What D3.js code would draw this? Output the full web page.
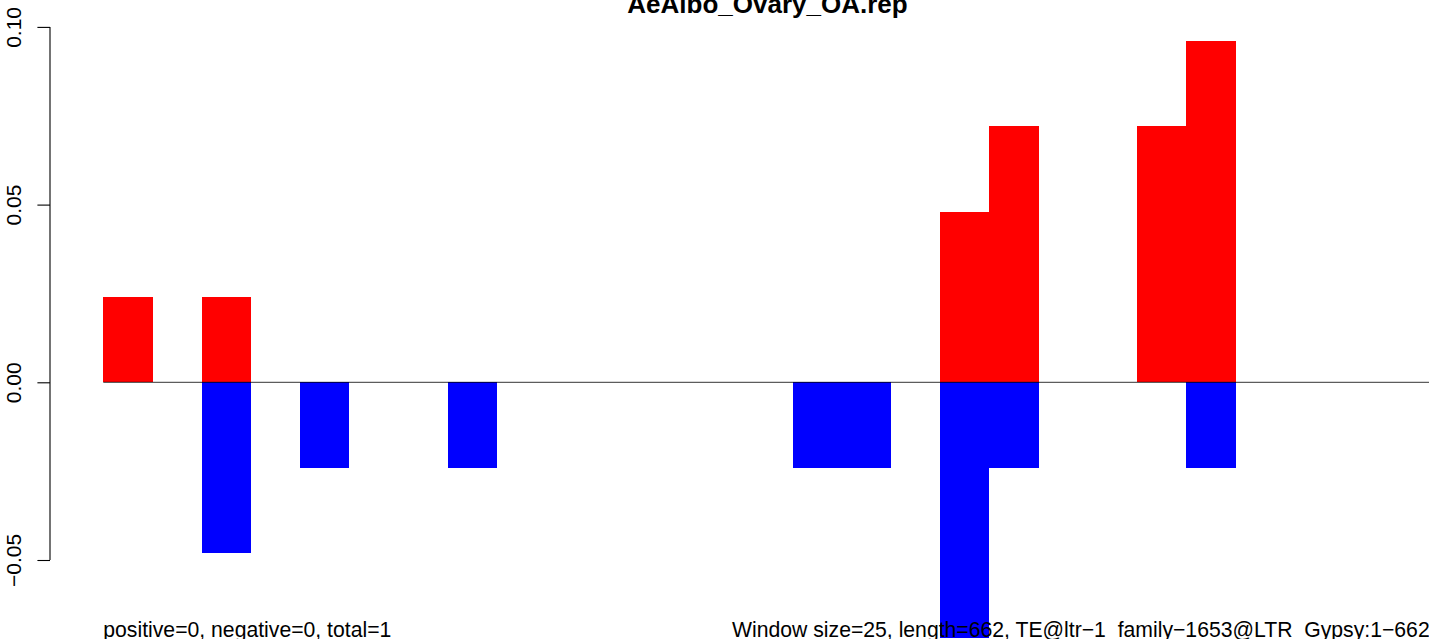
<!DOCTYPE html>
<html>
<head>
<meta charset="utf-8">
<script src="https://cdn.jsdelivr.net/npm/d3@7"></script>
<style>
  body { margin: 0; background: #fff; }
  svg { font-family: "Liberation Sans", Arial, Helvetica, sans-serif; display: block; }
</style>
</head>
<body>
<div id="chart-container"></div>
<script>
// windows of 25bp over a 662bp element -> 27 windows
const windowCount = 27;
const positiveValues = [0.024, 0, 0.024, 0, 0, 0, 0, 0, 0, 0, 0, 0, 0, 0, 0, 0, 0, 0.048, 0.072, 0, 0, 0.072, 0.096, 0, 0, 0, 0];
const negativeValues = [0, 0, -0.048, 0, -0.024, 0, 0, -0.024, 0, 0, 0, 0, 0, 0, -0.024, -0.024, 0, -0.072, -0.024, 0, 0, 0, -0.024, 0, 0, 0, 0];
const yTicks = [-0.05, 0, 0.05, 0.10];
const titleText = "AeAlbo_Ovary_OA.rep";
const leftNote = "positive=0, negative=0, total=1";
const rightNote = "Window size=25, length=662, TE@ltr\u22121_family\u22121653@LTR_Gypsy:1\u2212662";

chart = {
  "width": 1429,
  "height": 639,
  "scale": {
    "x": d3.scaleLinear(),
    "y": d3.scaleLinear()
  },
  "axisX": 50
}

function drawChart(){
  let barWidth = 49.23;
  chart.scale.x.domain([0, windowCount]).range([103.3, 103.3 + windowCount * barWidth]);
  chart.scale.y.domain([0, 0.05]).range([382.3, 204.6]);

  let svg = d3.select("#chart-container").append("svg")
    .attr("width", chart.width).attr("height", chart.height);

  let x = chart.scale.x, y = chart.scale.y;
  let bars = positiveValues.map((v, i) => ({"index": i, "pos": v, "neg": negativeValues[i]}));

  svg.append("g").attr("id", "positive-bars")
    .selectAll("rect")
    .data(bars.filter(d => d.pos > 0))
    .enter()
    .append("rect")
    .attr("x", d => x(d.index))
    .attr("width", d => x(d.index + 1) - x(d.index))
    .attr("y", d => y(d.pos))
    .attr("height", d => y(0) - y(d.pos))
    .attr("fill", "#ff0000")
    .attr("shape-rendering", "crispEdges");

  svg.append("g").attr("id", "negative-bars")
    .selectAll("rect")
    .data(bars.filter(d => d.neg < 0))
    .enter()
    .append("rect")
    .attr("x", d => x(d.index))
    .attr("width", d => x(d.index + 1) - x(d.index))
    .attr("y", y(0))
    .attr("height", d => y(d.neg) - y(0))
    .attr("fill", "#0000ff")
    .attr("shape-rendering", "crispEdges");

  // zero line
  svg.append("line")
    .attr("x1", x(0)).attr("x2", x(windowCount))
    .attr("y1", y(0)).attr("y2", y(0))
    .attr("stroke", "#000").attr("stroke-width", 0.8);

  // y axis, R style
  let axisY = d3.axisLeft(y).tickValues(yTicks).tickSize(12.6).tickPadding(0)
    .tickFormat(d3.format(".2f"));
  let gAxis = svg.append("g").attr("id", "y-axis")
    .attr("transform", "translate(" + chart.axisX + ",0)")
    .call(axisY);
  gAxis.select(".domain").remove();
  gAxis.append("line")
    .attr("x1", 0).attr("x2", 0)
    .attr("y1", y(yTicks[yTicks.length - 1])).attr("y2", y(yTicks[0]))
    .attr("stroke", "#000").attr("stroke-width", 1.1);
  gAxis.selectAll(".tick line").attr("stroke", "#000").attr("stroke-width", 1.1);
  gAxis.selectAll(".tick text").remove();
  gAxis.selectAll(".tick")
    .append("text")
    .attr("transform", "translate(-29.5,0) rotate(-90)")
    .attr("text-anchor", "middle")
    .attr("fill", "#000")
    .style("font-size", "21px")
    .style("font-family", "'Liberation Sans', Arial, sans-serif")
    .text(d => d3.format(".2f")(d).replace("-", "\u2212"));

  svg.append("text")
    .attr("x", 767.5).attr("y", 13)
    .attr("text-anchor", "middle")
    .style("font-size", "26px").style("font-weight", "bold")
    .text(titleText);

  svg.append("text")
    .attr("x", x(0)).attr("y", 636.5)
    .style("font-size", "21.2px")
    .text(leftNote);

  svg.append("text")
    .attr("x", 732).attr("y", 636.5)
    .style("font-size", "21.2px")
    .text(rightNote);
}

drawChart();
</script>
</body>
</html>
